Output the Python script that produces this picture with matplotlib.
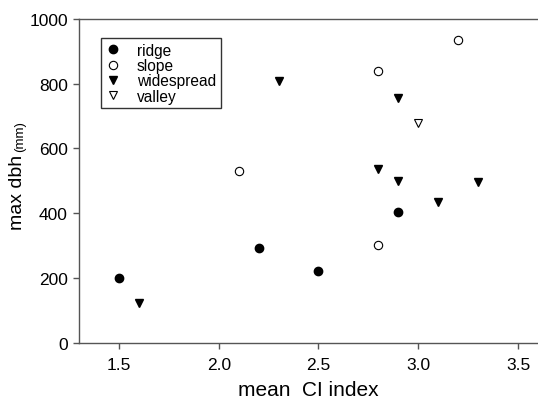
import matplotlib
matplotlib.use("Agg")
import matplotlib.pyplot as plt

plt.rcParams['font.family'] = ['Liberation Sans', 'DejaVu Sans']

ridge_x = [1.5, 2.2, 2.5, 2.9]
ridge_y = [200, 292, 222, 403]
slope_x = [2.1, 2.8, 3.2, 2.8]
slope_y = [530, 838, 935, 303]
wide_x = [1.6, 2.3, 2.8, 2.9, 2.9, 3.1, 3.3]
wide_y = [122, 808, 537, 757, 500, 435, 495]
valley_x = [3.0]
valley_y = [678]

xticks = [1.5, 2.0, 2.5, 3.0, 3.5]
xticklabels = ['1.5', '2.0', '2.5', '3.0', '3.5']
yticks = [0, 200, 400, 600, 800, 1000]

fig = plt.figure(figsize=(5.38, 4.02), dpi=100)
ax = fig.add_axes([79/538, 1 - 343.7/402, 1 - 79/538, (343.7 - 20)/402])

ms = 6
ax.plot(ridge_x, ridge_y, 'o', color='black', ms=ms, label='ridge', clip_on=False)
ax.plot(slope_x, slope_y, 'o', mfc='white', mec='black', mew=0.8, ms=ms, label='slope', clip_on=False)
ax.plot(wide_x, wide_y, 'v', color='black', ms=ms, label='widespread', clip_on=False)
ax.plot(valley_x, valley_y, 'v', mfc='white', mec='black', mew=0.8, ms=ms, label='valley', clip_on=False)

ax.set_xlim(1.3, 3.6)
ax.set_ylim(0, 1000)
ax.set_xticks(xticks)
ax.set_xticklabels(xticklabels)
ax.set_yticks(yticks)

spine_col = '#555555'
for s in ['left', 'bottom', 'top']:
    ax.spines[s].set_color(spine_col)
    ax.spines[s].set_linewidth(1.0)
ax.spines['right'].set_visible(False)
ax.tick_params(direction='out', length=4, width=1.0, color=spine_col, labelsize=12.5)
ax.tick_params(axis='x', pad=6)
ax.tick_params(axis='y', pad=4)

ax.set_xlabel('mean  CI index', fontsize=15, labelpad=6)
fig.text(18/538, 1 - 192/402, 'max dbh', rotation=90, fontsize=14, ha='center', va='center')
fig.text(20/538, 1 - 137/402, '(mm)', rotation=90, fontsize=9.5, ha='center', va='center')

leg = ax.legend(loc='upper left', bbox_to_anchor=(101/538, 1 - 39/402),
                bbox_transform=fig.transFigure, fontsize=11.2, frameon=True,
                fancybox=False, edgecolor='black', handlelength=1.0,
                handletextpad=1.0, labelspacing=0.02, borderpad=0.3,
                borderaxespad=0, numpoints=1)
leg.get_frame().set_linewidth(1.0)

fig.savefig('out.png', dpi=100)
